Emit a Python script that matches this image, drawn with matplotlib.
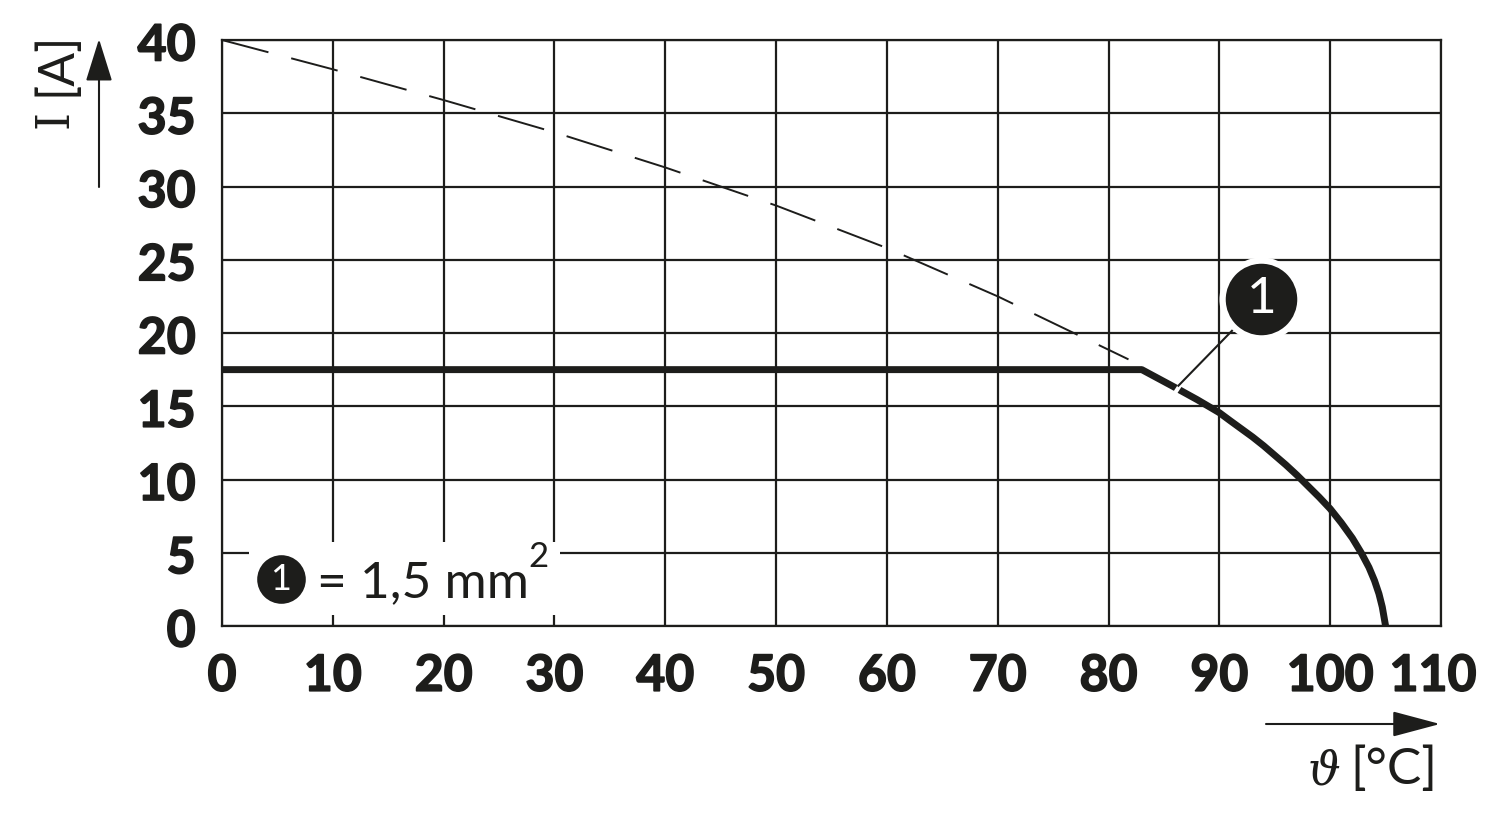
#!/usr/bin/python3
import matplotlib
matplotlib.use('agg')
import matplotlib.pyplot as plt
import matplotlib.patheffects as pe
from matplotlib.patches import Rectangle
from matplotlib.transforms import ScaledTranslation

plt.rcParams.update({"font.family": "Lato", "font.size": 36})

INK = '#1d1d1b'

x_ticks = [0, 10, 20, 30, 40, 50, 60, 70, 80, 90, 100, 110]
y_ticks = [0, 5, 10, 15, 20, 25, 30, 35, 40]

# solid derating curve
solid_temp = [0, 83, 86.2, 88, 90, 91, 92, 93, 94, 95, 96, 97, 98, 99, 100,
              101, 102, 102.8, 103.5, 104, 104.4, 104.7, 105]
solid_current = [17.5, 17.5, 16.2, 15.45, 14.56, 14.0, 13.45, 12.9, 12.3, 11.65, 11.0, 10.3, 9.55, 8.8, 8.0,
                 7.05, 6.0, 5.0, 4.0, 3.1, 2.2, 1.3, 0]

# dashed continuation
dashed_temp = [0, 10, 20, 30, 40, 50, 60, 70, 81.8]
dashed_current = [40, 38, 35.9, 33.7, 31.3, 28.7, 25.8, 22.5, 18.2]


def main():
    fig = plt.figure(figsize=(15, 8.21), dpi=100)
    ax = fig.add_axes([222 / 1500, 1 - 626 / 821, 1219 / 1500, 586 / 821])
    ax.set_xlim(0, 110)
    ax.set_ylim(0, 40)
    ax.set_xticks(x_ticks)
    ax.set_yticks(y_ticks)
    ax.grid(color=INK, lw=1.6, zorder=1)
    ax.set_axisbelow(True)
    ax.tick_params(length=0, labelcolor=INK, labelsize=36)
    ax.tick_params(axis='x', pad=20)
    ax.tick_params(axis='y', pad=19)
    stroke = [pe.withStroke(linewidth=1.2, foreground=INK)]
    for lab in ax.get_xticklabels() + ax.get_yticklabels():
        lab.set_fontweight('bold')
        lab.set_path_effects(stroke)
    for lab in ax.get_yticklabels():
        lab.set_va('center_baseline')
        lab.set_transform(lab.get_transform() + ScaledTranslation(0, -2 / 100, fig.dpi_scale_trans))
    # the last x label sits a bit left of its grid line
    last = ax.get_xticklabels()[-1]
    last.set_transform(last.get_transform() + ScaledTranslation(-8 / 100, 0, fig.dpi_scale_trans))
    for s in ax.spines.values():
        s.set_linewidth(1.6)
        s.set_color(INK)

    ax.plot(dashed_temp, dashed_current, color=INK, lw=1.4,
            linestyle=(0, (24.7, 12.1)), zorder=3)
    ax.plot(solid_temp, solid_current, color=INK, lw=5, zorder=4,
            solid_joinstyle='round', solid_capstyle='butt')

    # white patch behind the key
    ax.add_patch(Rectangle((2.4, 0.75), 28.1, 4.95, fc='white', ec='none', zorder=2))

    # callout, with small gap where it hits the curve
    ax.plot([85.9, 86.6], [15.8, 16.6], color='white', lw=3, zorder=5)
    ax.plot([86.3, 91.2], [16.4, 20.2], color=INK, lw=1.5, zorder=6)
    ax.plot([93.8], [22.3], 'o', ms=56, mfc=INK, mec='white', mew=4.5, zorder=7)
    ax.text(93.8, 22.3, '1', color='white', fontsize=37, ha='center', va='center', zorder=8)

    # key
    ax.plot([5.3], [3.2], 'o', ms=35, mfc=INK, mec='none', zorder=7)
    ax.text(5.3, 3.2, '1', color='white', fontsize=26, ha='center', va='center', zorder=8)
    fig.text(317 / 1500, 1 - 597 / 821, '= 1,5 mm', color=INK, fontsize=37)
    fig.text(528 / 1500, 1 - 567 / 821, '2', color=INK, fontsize=25)

    # axis names and arrows
    fig.text(78 / 1500, 1 - 128 / 821, 'I', color=INK, fontsize=33, family='DejaVu Serif',
             rotation=90, ha='right', va='bottom')
    fig.text(79 / 1500, 1 - 96 / 821, '[A]', color=INK, fontsize=36,
             rotation=90, ha='right', va='bottom')
    fig.text(1308 / 1500, 1 - 784 / 821, '\u03d1', color=INK, fontsize=33, family='DejaVu Serif',
             style='italic')
    fig.text(1350 / 1500, 1 - 784 / 821, '[°C]', color=INK, fontsize=37)

    ax.annotate('', xy=(99, 821 - 39), xytext=(99, 821 - 187), xycoords='figure pixels',
                textcoords='figure pixels', annotation_clip=False,
                arrowprops=dict(arrowstyle='-|>,head_length=26.6,head_width=8.3', color=INK,
                                lw=1.5, shrinkA=0, shrinkB=0, mutation_scale=1))
    ax.annotate('', xy=(1440, 821 - 724), xytext=(1266, 821 - 724), xycoords='figure pixels',
                textcoords='figure pixels', annotation_clip=False,
                arrowprops=dict(arrowstyle='-|>,head_length=30,head_width=8', color=INK,
                                lw=1.5, shrinkA=0, shrinkB=0, mutation_scale=1))

    plt.savefig("out.png", dpi=100)


if __name__ == "__main__":
    main()
